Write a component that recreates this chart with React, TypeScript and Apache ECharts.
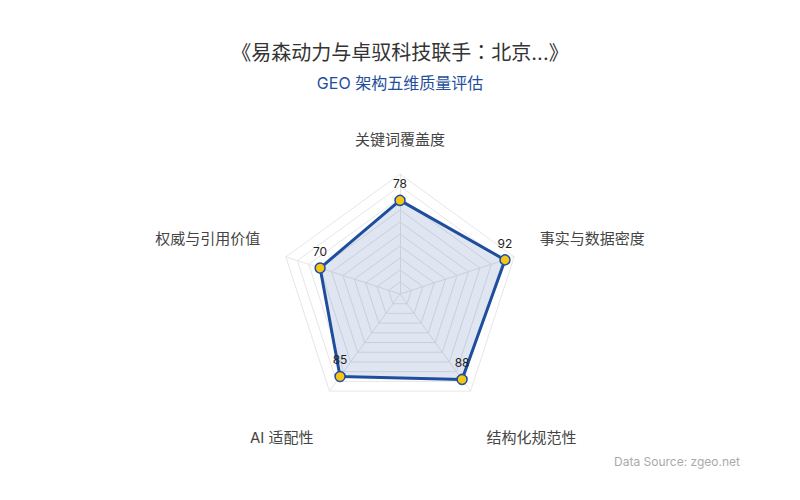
import * as echarts from "echarts"
import { useEffect, useRef } from "react"

// indicators listed clockwise from the top, as they sit in the picture
const dimensions = ["关键词覆盖度", "事实与数据密度", "结构化规范性", "AI 适配性", "权威与引用价值"]
const scores = [78, 92, 88, 85, 70]
const maxScore = 100

const FONT = "Inter, 'Noto Sans CJK SC', sans-serif"
const BLUE = "#1f4e9e"

// ECharts walks the radar counter-clockwise, so flip everything after the first axis
const order = [0, 4, 3, 2, 1]

export default function App() {
  const ref = useRef<HTMLDivElement>(null)

  useEffect(() => {
    document.body.style.margin = "0"
    if (!ref.current) return
    const chart = echarts.init(ref.current, null, { renderer: "svg" })

    const indicator = order.map((i) => ({ name: dimensions[i], max: maxScore }))
    const values = order.map((i) => scores[i])

    chart.setOption({
      animation: false,
      textStyle: { fontFamily: FONT },
      title: {
        text: "《易森动力与卓驭科技联手：北京...》",
        subtext: "GEO 架构五维质量评估",
        left: "center",
        top: 38,
        itemGap: 12,
        textStyle: {
          fontSize: 20,
          fontWeight: "normal",
          color: "#333",
          fontFamily: "Inter, 'Noto Sans CJK JP', sans-serif",
        },
        subtextStyle: { fontSize: 16, color: BLUE, fontFamily: FONT },
      },
      radar: {
        center: ["50%", 294],
        radius: 120,
        splitNumber: 10,
        shape: "polygon",
        nameGap: 27,
        indicator,
        axisName: {
          color: "#444",
          fontSize: 15,
          formatter: (name: string) => {
            const i = dimensions.indexOf(name)
            if (i === 0) return name
            return i === 1 || i === 4 ? `{up|${name}}` : `{down|${name}}`
          },
          rich: {
            up: { fontSize: 15, color: "#444", padding: [0, 0, 20, 0], fontFamily: FONT },
            down: { fontSize: 15, color: "#444", padding: [50, 0, 0, 0], fontFamily: FONT },
          },
        },
        splitLine: { lineStyle: { color: "#e6e6e6", width: 1 } },
        splitArea: { show: false },
        axisLine: { lineStyle: { color: "#e6e6e6" } },
      },
      series: [
        {
          type: "radar",
          symbol: "circle",
          symbolSize: 10,
          data: [
            {
              value: values,
              name: "GEO",
              lineStyle: { color: BLUE, width: 3 },
              areaStyle: { color: "rgba(31,78,158,0.2)" },
              itemStyle: { color: "#f5c518", borderColor: BLUE, borderWidth: 1.5 },
              label: { show: true, position: "top", distance: 5, color: "#222", fontSize: 12 },
            },
          ],
        },
      ],
      graphic: [
        {
          type: "text",
          right: 60,
          top: 455,
          style: { text: "Data Source: zgeo.net", fill: "#aaa", fontSize: 12, fontFamily: FONT },
        },
      ],
    })

    return () => chart.dispose()
  }, [])

  return <div ref={ref} style={{ width: 800, height: 500 }} />
}
